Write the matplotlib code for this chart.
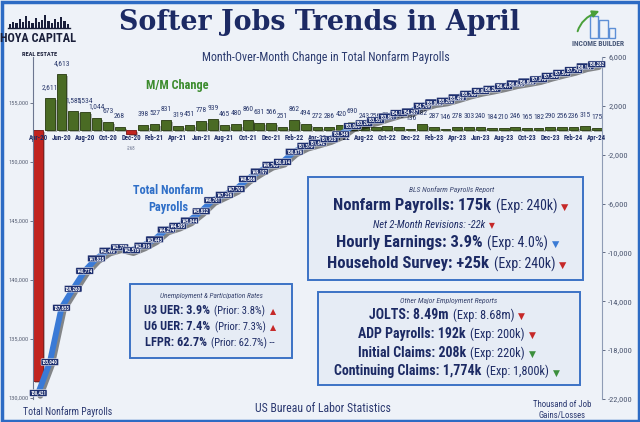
import matplotlib.pyplot as plt
from matplotlib import font_manager
from matplotlib import patheffects as pe
from matplotlib.patches import Rectangle
from matplotlib.offsetbox import TextArea, HPacker, AnnotationBbox
import pandas as pd

# pick a condensed face if one is installed
installed = {f.name for f in font_manager.fontManager.ttflist}
NARROW = next(
    (f for f in ("Liberation Sans Narrow", "Roboto Condensed", "Open Sans Condensed", "Roboto")
     if f in installed),
    "DejaVu Sans",
)
plt.rcParams["font.family"] = [NARROW, "DejaVu Sans"]

# -------------------------
# DATA
# -------------------------
months = pd.date_range("2020-04-01", "2024-04-01", freq="MS").strftime("%b-%y").tolist()

mm_change = [
    -20493, 2611, 4613, 1585, 1534, 1044, 673, 268, -268,
    398, 527, 831, 319, 451, 778, 939, 465, 480, 860, 631, 566,
    251, 862, 494, 272, 286, 420, 690, 243, 256, 324, 290, 136,
    482, 287, 146, 278, 303, 240, 184, 210, 246, 165, 182, 290,
    256, 236, 315, 175,
]

total_payrolls = [
    130421, 133040, 137653, 139260, 140774, 141828, 142490, 142770, 142518,
    142916, 143443, 144274, 144593, 145044, 145822, 146761, 147226, 147706,
    148566, 149197, 149763, 150014, 150876, 151370, 151642, 151928, 152348,
    153038, 153281, 153537, 153861, 154151, 154287, 154769, 155056, 155202,
    155480, 155783, 156023, 156207, 156417, 156663, 156828, 157010, 157300,
    157556, 157792, 158107, 158282,
]

bls_lines = [
    ("Nonfarm Payrolls: 175k", "(Exp: 240k)", "down", "red"),
    ("Hourly Earnings: 3.9%", "(Exp: 4.0%)", "down", "blue"),
    ("Household Survey: +25k", "(Exp: 240k)", "down", "red"),
]
revision_text = "Net 2-Month Revisions: -22k"

other_lines = [
    ("JOLTS: 8.49m", "(Exp: 8.68m)", "down", "red"),
    ("ADP Payrolls: 192k", "(Exp: 200k)", "down", "red"),
    ("Initial Claims: 208k", "(Exp: 220k)", "down", "green"),
    ("Continuing Claims: 1,774k", "(Exp: 1,800k)", "down", "green"),
]

rate_lines = [
    ("U3 UER: 3.9%", "(Prior: 3.8%)", "up", "red"),
    ("U6 UER: 7.4%", "(Prior: 7.3%)", "up", "red"),
    ("LFPR: 62.7%", "(Prior: 62.7%) --", None, None),
]

# -------------------------
# STYLE
# -------------------------
BG = "#eef2f8"
NAVY = "#1c2a64"
BOX_FC = "#e6ecf5"
BOX_EC = "#3c72c5"
BAR_GREEN = "#4a6b24"
BAR_RED = "#c1241f"
LINE_BLUE = "#3a7ad6"
MARKS = {"red": "#c62828", "blue": "#3a7bd5", "green": "#3c8f3c"}
ARROWS = {"down": "\u25BC", "up": "\u25B2"}

fig = plt.figure(figsize=(6.4, 4.22), dpi=100)
fig.patch.set_facecolor(BG)

# plot area in pixels: x 33..602, y 57..399
ax_bar = fig.add_axes([33 / 640, 1 - 399 / 422, 569 / 640, 342 / 422])
ax_bar.set_facecolor("none")
ax_line = ax_bar.twinx()

x = list(range(len(months)))

# -------------------------
# M/M CHANGE BARS (right axis)
# -------------------------
colors = [BAR_GREEN if v > 0 else BAR_RED for v in mm_change]
edges = ["#26380f" if v > 0 else "#7a1212" for v in mm_change]
bars = ax_bar.bar(x, mm_change, width=0.84, color=colors, edgecolor=edges,
                  linewidth=0.6, zorder=2)
for b in bars:
    b.set_path_effects([pe.withSimplePatchShadow(offset=(1.5, -1.5), alpha=0.3)])

for i, v in enumerate(mm_change):
    if v > 0:
        ax_bar.annotate(f"{v:,}", (i, v), xytext=(0, 6.5), textcoords="offset points",
                        ha="center", va="baseline", fontsize=5.4, color="#2c3b6e")
    elif v > -1000:
        ax_bar.annotate(f"{v:,}", (i, 0), xytext=(0, -11), textcoords="offset points",
                        ha="center", va="top", fontsize=3.6, color="#6c7590")

# month labels sit just under the zero line
for i in range(0, len(months), 2):
    ax_bar.text(i, -330, months[i], ha="center", va="top", fontsize=4.9,
                fontweight="bold", color=NAVY, zorder=6)

ax_bar.set_xlim(-0.45, len(months) - 0.55)
ax_bar.set_ylim(-22000, 6000)
ax_bar.set_xticks([])
ax_bar.set_yticks(range(-22000, 6001, 4000))
ax_bar.yaxis.set_major_formatter(plt.FuncFormatter(lambda v, p: f"{v:,.0f}"))
ax_bar.yaxis.tick_right()
ax_bar.tick_params(axis="y", labelsize=6, colors="#4b5670", length=2.5, width=0.6, pad=2)

# -------------------------
# TOTAL NONFARM LINE (left axis)
# -------------------------
ax_line.plot(x, total_payrolls, color=LINE_BLUE, linewidth=4.2, solid_capstyle="round",
             zorder=3, path_effects=[pe.SimpleLineShadow(offset=(1.5, -2), alpha=0.45),
                                     pe.Normal()])
for i, v in enumerate(total_payrolls):
    ax_line.text(i, v, f"{v:,}", ha="center", va="center", fontsize=3.5,
                 fontweight="bold", color="white", zorder=5,
                 bbox=dict(boxstyle="round,pad=0.18", fc="#1d2f6f", ec="white", lw=0.35))

ax_line.set_ylim(129915, 158900)
ax_line.set_yticks(range(130000, 155001, 5000))
ax_line.yaxis.set_major_formatter(plt.FuncFormatter(lambda v, p: f"{v:,.0f}"))
ax_line.yaxis.tick_left()
ax_line.tick_params(axis="y", labelsize=4.6, colors="#5b6378", length=2, width=0.6, pad=1.5)

for s in ("top", "bottom", "left"):
    ax_bar.spines[s].set_visible(False)
for s in ("top", "bottom", "right"):
    ax_line.spines[s].set_visible(False)
ax_bar.spines["right"].set_color("#8f9cb5")
ax_line.spines["left"].set_color("#6c7690")
ax_line.spines["left"].set_linewidth(0.8)

# -------------------------
# OVERLAY (pixel coordinates)
# -------------------------
ov = fig.add_axes([0, 0, 1, 1], zorder=10)
ov.set_xlim(0, 640)
ov.set_ylim(422, 0)
ov.axis("off")
ov.patch.set_alpha(0)

ov.add_patch(Rectangle((1.5, 1.5), 637, 419, fill=False, ec="#2d6bc4", lw=2.5))

ov.text(319, 22, "Softer Jobs Trends in April", ha="center", va="center",
        fontsize=19.4, fontweight="bold", family="DejaVu Serif", color=NAVY)
ov.text(326, 58, "Month-Over-Month Change in Total Nonfarm Payrolls", ha="center",
        va="center", fontsize=8.6, color="#2a3a6e")
ov.text(177, 86, "M/M Change", ha="center", va="center", fontsize=8.8,
        fontweight="bold", color="#3c8c2e")
ov.text(168, 199, "Total Nonfarm\nPayrolls", ha="center", va="center", fontsize=8.8,
        fontweight="bold", color="#2f6fc8", linespacing=1.3)

# logos
ov.text(38, 39, "HOYA CAPITAL", ha="center", va="center", fontsize=8.8,
        fontweight="bold", color="#1a1f3a")
ov.text(40, 54, "REAL ESTATE", ha="center", va="center", fontsize=4.6,
        fontweight="bold", color="#1a1f3a")
skyline = [4, 6, 5, 9, 6, 12, 7, 5, 10, 6, 8, 13, 7, 5, 9, 6, 11, 7, 4]
for k, h in enumerate(skyline):
    ov.add_patch(Rectangle((9 + k * 3.2, 28 - h), 2.2, h, fc="#1a1f3a", ec="none"))
ov.plot([8, 70], [28, 28], color="#1a1f3a", lw=1)

ov.text(598, 44, "INCOME BUILDER", ha="center", va="center", fontsize=5.4,
        fontweight="bold", color="#4a5a7a")
for bx, bw, bh in [(590, 8, 22), (599, 9, 18), (609, 6, 10)]:
    ov.add_patch(Rectangle((bx, 38 - bh), bw, bh, fill=False, ec="#5d8fd6", lw=1))
ov.annotate("", xy=(602, 10), xytext=(577, 34),
            arrowprops=dict(arrowstyle="-|>", color="#4aa03a", lw=1.4,
                            connectionstyle="angle3,angleA=80,angleB=20"))

# bottom captions
ov.text(68, 412, "Total Nonfarm Payrolls", ha="center", va="center", fontsize=7,
        color="#2a3870")
ov.text(323, 409, "US Bureau of Labor Statistics", ha="center", va="center",
        fontsize=8.5, color="#2a3870")
ov.text(562, 410, "Thousand of Job\nGains/Losses", ha="center", va="center",
        fontsize=6.3, color="#2a3870", linespacing=1.3)


def rich_line(cx, cy, parts, sep=3):
    areas = [TextArea(t, textprops=p) for t, p in parts]
    pack = HPacker(children=areas, align="baseline", pad=0, sep=sep)
    ov.add_artist(AnnotationBbox(pack, (cx, cy), frameon=False,
                                 box_alignment=(0.5, 0.5), pad=0))


def info_box(x0, y0, w, h):
    ov.add_patch(Rectangle((x0, y0), w, h, fc=BOX_FC, ec=BOX_EC, lw=1.4, zorder=1))


def mark_props(size, color):
    return dict(fontsize=size, color=MARKS[color], family="DejaVu Sans")


# BLS box
info_box(308, 177, 275, 103)
ov.text(452, 190, "BLS Nonfarm Payrolls Report", ha="center", va="center",
        fontsize=5.5, style="italic", color="#3a4670")
for (bold, reg, arrow, col), cx, cy in zip(bls_lines, (451, 448, 447), (206, 243, 264)):
    rich_line(cx, cy, [
        (bold, dict(fontsize=12, fontweight="bold", color=NAVY)),
        (reg, dict(fontsize=10, color=NAVY)),
        (ARROWS[arrow], mark_props(6.8, col)),
    ])
rich_line(434, 225, [
    (revision_text, dict(fontsize=7.6, style="italic", color=NAVY)),
    (ARROWS["down"], mark_props(5.5, "red")),
])

# other reports box
info_box(318, 292, 262, 93)
ov.text(449, 301, "Other Major Employment Reports", ha="center", va="center",
        fontsize=5.5, style="italic", color="#3a4670")
for (bold, reg, arrow, col), cy in zip(other_lines, (315, 334, 353, 371.5)):
    rich_line(447, cy, [
        (bold, dict(fontsize=10, fontweight="bold", color=NAVY)),
        (reg, dict(fontsize=8.8, color=NAVY)),
        (ARROWS[arrow], mark_props(6.5, col)),
    ])

# unemployment box
info_box(130, 284, 162, 74)
ov.text(211, 296, "Unemployment & Participation Rates", ha="center", va="center",
        fontsize=5.3, style="italic", color="#3a4670")
for (bold, reg, arrow, col), cy in zip(rate_lines, (311, 327, 343)):
    parts = [
        (bold, dict(fontsize=8.8, fontweight="bold", color=NAVY)),
        (reg, dict(fontsize=7.6, color=NAVY)),
    ]
    if arrow:
        parts.append((ARROWS[arrow], mark_props(5.8, col)))
    rich_line(210, cy, parts)

fig.savefig("out.png", dpi=100, facecolor=BG)
